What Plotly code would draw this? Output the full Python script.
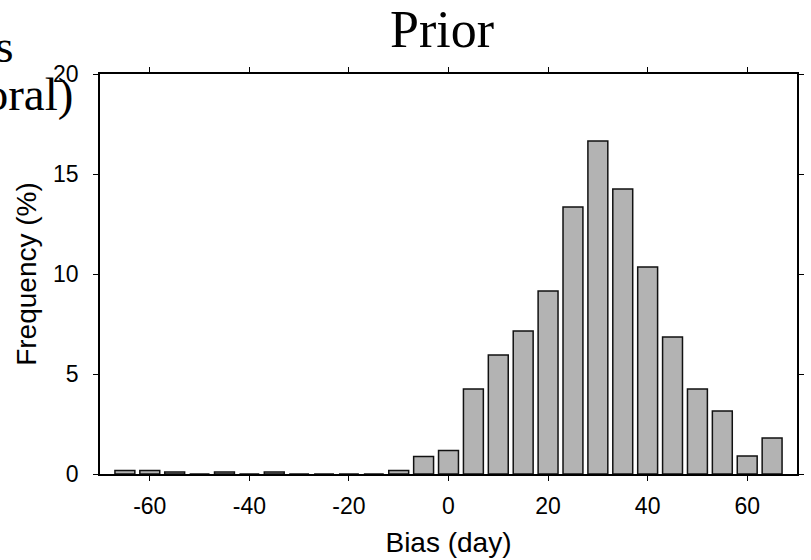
import plotly.graph_objects as go

# Histogram of bias (day): bin centres and frequency (%)
bin_centers = [-65, -60, -55, -50, -45, -40, -35, -30, -25, -20, -15, -10, -5,
               0, 5, 10, 15, 20, 25, 30, 35, 40, 45, 50, 55, 60, 65]
frequency = [0.18, 0.18, 0.1, 0.0, 0.1, 0.0, 0.1, 0.0, 0.0, 0.0, 0.0, 0.18, 0.88,
             1.18, 4.25, 5.95, 7.15, 9.15, 13.35, 16.65, 14.25, 10.35, 6.85, 4.25,
             3.15, 0.9, 1.8]

x_ticks = [-60, -40, -20, 0, 20, 40, 60]
x_tick_labels = ["-60", "-40", "-20", "0", "20", "40", "60"]
y_ticks = [0, 5, 10, 15, 20]
y_tick_labels = ["0", "5", "10", "15", "20"]

W, H = 811, 560
ML, MR, MT, MB = 100, 7, 74, 84
PW = W - ML - MR
PH = H - MT - MB

def px_x(px):
    return (px - ML) / PW

def px_y(py):
    return (H - MB - py) / PH

SANS = "Liberation Sans, Arial, sans-serif"
SERIF = "Liberation Serif, Times New Roman, serif"

fig = go.Figure(
    go.Bar(
        x=bin_centers,
        y=frequency,
        width=4,
        marker=dict(color="#b3b3b3", line=dict(color="#111111", width=1.5)),
    )
)

axis_common = dict(
    showline=True,
    linecolor="black",
    linewidth=1.5,
    mirror="ticks",
    ticks="outside",
    ticklen=5,
    tickwidth=1.3,
    tickcolor="black",
    showgrid=False,
    zeroline=False,
    tickfont=dict(family=SANS, size=23, color="black"),
)

fig.update_xaxes(
    range=[-70, 70],
    tickvals=x_ticks,
    ticktext=x_tick_labels,
    ticklabelstandoff=6,
    title=dict(text="Bias (day)", font=dict(family=SANS, size=28, color="black"), standoff=14),
    **axis_common,
)
fig.update_yaxes(
    range=[0, 20],
    tickvals=y_ticks,
    ticktext=y_tick_labels,
    ticklabelstandoff=10,
    title=dict(text="Frequency (%)", font=dict(family=SANS, size=28, color="black"), standoff=8),
    **axis_common,
)

fig.update_layout(
    width=W,
    height=H,
    margin=dict(l=ML, r=MR, t=MT, b=MB, pad=0),
    plot_bgcolor="white",
    paper_bgcolor="white",
    showlegend=False,
    title=dict(
        text="Prior",
        font=dict(family=SERIF, size=52, color="black"),
        x=442 / W,
        xanchor="center",
        y=1 - 29 / H,
        yanchor="middle",
        yref="container",
    ),
    annotations=[
        dict(text="Bias", x=px_x(15), y=px_y(46), xref="paper", yref="paper",
             xanchor="right", yanchor="middle", showarrow=False,
             font=dict(family=SERIF, size=47, color="black")),
        dict(text="(temporal)", x=px_x(75), y=px_y(94), xref="paper", yref="paper",
             xanchor="right", yanchor="middle", showarrow=False,
             font=dict(family=SERIF, size=47, color="black")),
    ],
)

fig.write_html("out.html")
